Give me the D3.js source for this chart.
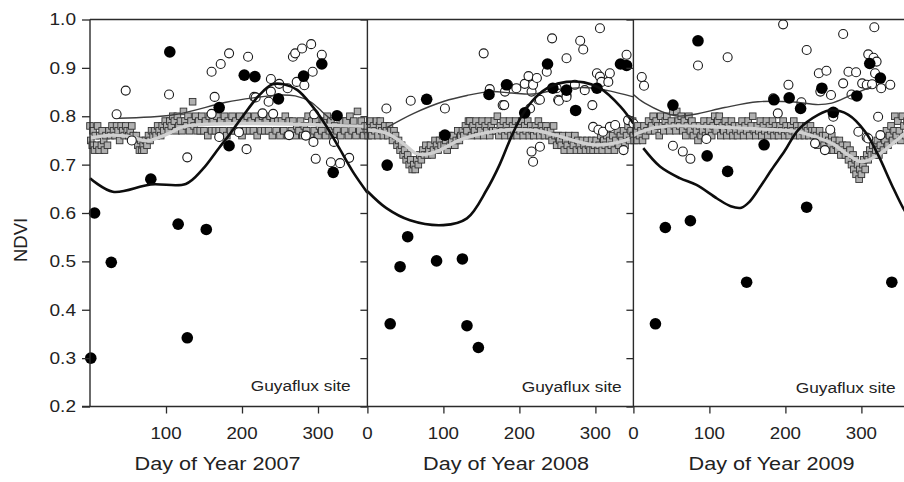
<!DOCTYPE html>
<html>
<head>
<meta charset="utf-8">
<script src="https://cdn.jsdelivr.net/npm/d3@7"></script>
<style>
  body { margin: 0; background: #fff; }
  text { font-family: "Liberation Sans", Arial, sans-serif; fill: #222; }
</style>
</head>
<body>
<svg id="chart" width="904" height="482"></svg>
<script>
// ---- data: NDVI by day of year, Guyaflux site ----
const years = ["2007", "2008", "2009"];
const yTicks = [0.2, 0.3, 0.4, 0.5, 0.6, 0.7, 0.8, 0.9, 1.0];
const xTicks2007 = [100, 200, 300];
const xTicks2008 = [0, 100, 200, 300];
const xTicks2009 = [0, 100, 200, 300];
const siteLabel = "Guyaflux site";

// grey squares: daily composite NDVI
const squares2007 = [[0,.78],[1,.75],[3,.74],[4,.77],[6,.73],[7,.76],[9,.74],[10,.78],[12,.73],[13,.76],[15,.74],[16,.77],[18,.75],[19,.73],[21,.76],
  [23,.74],[25,.77],[27,.76],[29,.78],[31,.77],[33,.76],[35,.78],[37,.77],[39,.75],[41,.78],[43,.77],[45,.76],[47,.78],[49,.77],[51,.76],[53,.77],[55,.78],[57,.76],
  [59,.75],[61,.76],[63,.74],[65,.73],[67,.75],[68,.73],[70,.74],[71,.73],[73,.75],[75,.74],[77,.76],[79,.75],
  [81,.77],[83,.76],[85,.77],[87,.76],[89,.78],[91,.77],[93,.76],[95,.78],[97,.77],[99,.79],[101,.78],[103,.77],[105,.79],[107,.78],[109,.80],
  [111,.79],[113,.77],[115,.80],[117,.78],[119,.79],[121,.77],[123,.81],[125,.79],[127,.78],[129,.80],[131,.77],[133,.79],[135,.83],[137,.78],[139,.80],
  [141,.77],[143,.79],[145,.77],[147,.80],[150,.77],[152,.79],[155,.76],[157,.80],[160,.77],[162,.79],[165,.77],[167,.80],[170,.77],[172,.79],[175,.77],[177,.80],
  [180,.76],[182,.79],[185,.77],[187,.80],[190,.77],[192,.79],[195,.77],[197,.80],[200,.76],[202,.79],[205,.77],[207,.80],[210,.77],[212,.79],[215,.77],[217,.80],
  [220,.76],[222,.79],[225,.77],[227,.80],[230,.77],[232,.79],[235,.77],[237,.80],[240,.76],[242,.79],[245,.77],[247,.79],[250,.76],[252,.79],[255,.77],[257,.80],
  [260,.76],[262,.79],[265,.77],[267,.79],[270,.76],[272,.78],[275,.77],[277,.79],[280,.76],[282,.78],[285,.77],[287,.80],[290,.76],[292,.79],[295,.77],[297,.79],
  [300,.76],[302,.78],[305,.77],[307,.79],[310,.76],[312,.80],[315,.77],[317,.79],[320,.76],[322,.78],[325,.77],[327,.80],[330,.76],[332,.79],[335,.77],[337,.79],
  [340,.76],[342,.80],[345,.77],[347,.79],[350,.76],[352,.81],[355,.77],[357,.79],[360,.76],[362,.78],[365,.77]];
const squares2008 = [[0,.78],[1,.76],[3,.79],[4,.77],[6,.76],[8,.78],[10,.77],[12,.79],[14,.76],[16,.78],[17,.79],[19,.77],[21,.76],[23,.78],[25,.77],[27,.76],[29,.78],[31,.77],[33,.75],[35,.77],[37,.76],[39,.74],
  [41,.75],[43,.73],[45,.74],[47,.72],[49,.73],[51,.71],[53,.72],[55,.70],[57,.71],[59,.69],[61,.70],[63,.69],[65,.71],[67,.70],[69,.72],[71,.71],[73,.73],[75,.72],[77,.74],[79,.72],[81,.73],[83,.74],[85,.72],[87,.73],
  [89,.75],[91,.74],[93,.73],[95,.75],[97,.74],[99,.76],[101,.74],[103,.75],[105,.73],[107,.76],[109,.74],[111,.75],[113,.76],[115,.74],[117,.75],[119,.77],[121,.75],[123,.76],[125,.77],
  [127,.76],[129,.78],[131,.77],[133,.79],[135,.79],[137,.76],[139,.78],[141,.77],[143,.79],[145,.76],[147,.78],[149,.77],[151,.79],[153,.76],[155,.78],[157,.77],[159,.79],[161,.76],[163,.78],[165,.77],[167,.79],[169,.77],[171,.80],[173,.76],[175,.78],[177,.77],[179,.79],
  [181,.76],[183,.78],[185,.77],[187,.79],[189,.76],[191,.78],[193,.77],[195,.79],[197,.76],[199,.78],[201,.77],[203,.79],[205,.76],[207,.78],[209,.77],[211,.79],[213,.76],[215,.78],[217,.77],[219,.76],[221,.78],[223,.77],[225,.79],[227,.76],[229,.78],[231,.77],[233,.76],[235,.78],[237,.77],[239,.76],
  [241,.77],[243,.75],[245,.78],[247,.76],[249,.74],[251,.76],[253,.75],[255,.74],[257,.76],[259,.73],[261,.75],[263,.74],[265,.76],[267,.73],[269,.75],[271,.74],[273,.76],[275,.73],[277,.75],[279,.74],[281,.73],[283,.75],[285,.74],[287,.73],[289,.75],[291,.74],[293,.73],[295,.75],[297,.73],[299,.74],[301,.75],[303,.73],
  [305,.74],[307,.76],[309,.73],[311,.75],[313,.74],[315,.76],[317,.73],[319,.75],[321,.74],[323,.76],[325,.73],[327,.75],[329,.77],[331,.74],[333,.76],[335,.75],[337,.77],[339,.74],[341,.76],[343,.78],[345,.75],[347,.77],[349,.79],[350,.76]];
const squares2009 = [[0,.76],[1,.75],[3,.77],[5,.75],[6,.78],[8,.76],[10,.77],[12,.75],[14,.78],[16,.76],[18,.77],[20,.79],[22,.77],
  [24,.78],[26,.80],[28,.77],[30,.79],[32,.78],[34,.76],[36,.80],[38,.78],[40,.77],[42,.79],[44,.80],[46,.78],[48,.77],[50,.79],[52,.81],[54,.78],[56,.77],[57,.81],[59,.79],[61,.78],[63,.80],[65,.77],[67,.79],[69,.76],[71,.78],[73,.80],[75,.77],[77,.79],
  [79,.76],[81,.78],[83,.77],[85,.75],[87,.78],[89,.76],[91,.77],[93,.79],[95,.76],[97,.78],[99,.77],[101,.79],[103,.76],[105,.78],[107,.80],[109,.77],[111,.79],[113,.80],[115,.76],[117,.78],[119,.77],[121,.79],[123,.76],[125,.78],[127,.77],[129,.79],[131,.76],[133,.78],[135,.77],[137,.76],
  [139,.78],[141,.77],[143,.79],[145,.76],[147,.78],[149,.77],[151,.79],[153,.76],[155,.78],[157,.80],[159,.77],[161,.76],[163,.78],[165,.77],[167,.79],[169,.76],[171,.78],[173,.77],[175,.79],[177,.76],[179,.78],
  [181,.77],[183,.79],[185,.76],[187,.78],[189,.77],[191,.76],[193,.78],[195,.77],[197,.79],[199,.76],[201,.78],[203,.77],[205,.76],[207,.78],[209,.77],[211,.79],[213,.76],[215,.78],[217,.77],[219,.76],[221,.78],[223,.77],[225,.76],[227,.78],[229,.77],[231,.76],[233,.78],[235,.77],[237,.76],[239,.77],
  [241,.76],[243,.74],[245,.77],[247,.75],[249,.76],[251,.74],[253,.76],[255,.73],[257,.75],[259,.74],[261,.76],[263,.73],[265,.75],[267,.74],[269,.73],[271,.75],[273,.72],[275,.74],[277,.73],[279,.72],[281,.74],
  [283,.71],[285,.73],[287,.70],[289,.72],[290,.69],[292,.71],[293,.68],[295,.70],[297,.67],[298,.69],[300,.68],[302,.70],[303,.71],[305,.69],
  [307,.72],[309,.71],[311,.73],[313,.72],[315,.74],[317,.72],[319,.73],[321,.75],[323,.72],[325,.74],[327,.76],[329,.73],[331,.75],[333,.77],[335,.74],[337,.76],[339,.78],[341,.75],[343,.77],[344,.80],[346,.76],[348,.79],[350,.77],[352,.75],[354,.80],[356,.78],[358,.76],[360,.79]];

// light grey smoothed curve through the squares
const greyFit2007 = [[0,.755],[30,.761],[55,.757],[74,.749],[100,.762],[122,.778],[150,.783],[200,.785],[260,.784],[300,.782],[365,.779]];
const greyFit2008 = [[0,.772],[25,.765],[47,.744],[64,.723],[75,.721],[91,.727],[122,.751],[157,.766],[188,.772],[223,.770],[254,.758],[297,.741],[333,.747],[350,.757]];
const greyFit2009 = [[0,.761],[24,.775],[55,.780],[120,.777],[186,.772],[217,.768],[240,.757],[261,.744],[283,.720],[300,.706],[322,.720],[349,.754],[365,.775]];

// open circles and their thin fitted curve
const open2007 = [[35,.804],[47,.853],[55,.750],[104,.845],[128,.715],[160,.892],[172,.908],[183,.930],[160,.805],[164,.840],[170,.757],[196,.767],[206,.732],[208,.923],
  [216,.840],[218,.839],[227,.806],[235,.830],[238,.877],[238,.851],[241,.805],[249,.867],[260,.858],[262,.761],[267,.923],[270,.930],[272,.871],[279,.940],[282,.864],
  [284,.760],[291,.949],[293,.892],[294,.747],[295,.804],[297,.712],[305,.927],[317,.705],[321,.747],[329,.703],[341,.714]];
const open2008 = [[25,.816],[57,.832],[102,.816],[153,.930],[161,.856],[178,.823],[180,.823],[181,.851],[185,.865],[196,.858],[207,.867],[212,.883],[214,.816],[216,.851],
  [216,.727],[218,.865],[218,.706],[223,.879],[225,.834],[227,.737],[227,.834],[236,.892],[243,.961],[249,.858],[251,.834],[252,.832],[262,.920],[262,.844],[262,.840],
  [273,.865],[280,.956],[284,.938],[286,.854],[296,.823],[297,.778],[302,.889],[304,.772],[306,.982],[306,.882],[308,.871],[310,.768],[317,.871],[319,.889],[319,.778],
  [326,.782],[337,.730],[341,.927],[343,.792],[350,.785]];
const open2009 = [[11,.881],[14,.863],[52,.739],[65,.727],[75,.712],[85,.905],[96,.753],[124,.922],[184,.837],[190,.806],[197,.990],[204,.865],[221,.829],[228,.937],
  [239,.744],[244,.889],[246,.851],[252,.730],[254,.894],[259,.772],[260,.844],[263,.799],[276,.970],[276,.868],[283,.892],[287,.845],[293,.891],[296,.768],[301,.868],
  [307,.865],[307,.756],[309,.928],[309,.754],[314,.866],[316,.921],[317,.984],[318,.889],[320,.913],[322,.799],[325,.761],[326,.858],[338,.865]];
const thinFit2007 = [[38,.796],[110,.803],[179,.829],[215,.838],[250,.844],[270,.842],[290,.830],[305,.810],[318,.792]];
const thinFit2008 = [[25,.776],[61,.806],[101,.831],[131,.843],[162,.851],[190,.848],[218,.846],[254,.856],[289,.859],[320,.852],[350,.840]];
const thinFit2009 = [[0,.845],[15,.827],[55,.801],[81,.804],[120,.818],[164,.830],[208,.830],[243,.824],[261,.827],[287,.844],[313,.861]];

// filled circles and their thick fitted curve
const filled2007 = [[1,.300],[6,.600],[28,.498],[80,.670],[105,.933],[116,.577],[128,.342],[153,.566],[170,.818],[183,.739],[203,.885],[217,.882],[248,.836],
  [281,.883],[305,.908],[320,.684],[325,.801]];
const filled2008 = [[26,.699],[30,.371],[43,.489],[53,.551],[78,.835],[91,.501],[102,.761],[125,.505],[131,.367],[146,.322],[160,.845],[183,.865],[207,.807],
  [237,.908],[244,.858],[262,.854],[274,.812],[302,.858],[333,.908],[341,.905]];
const filled2009 = [[29,.371],[42,.570],[52,.823],[75,.584],[85,.956],[97,.718],[124,.686],[149,.457],[172,.741],[185,.834],[205,.838],[220,.816],[228,.612],
  [248,.858],[263,.808],[294,.842],[311,.909],[325,.879],[340,.457]];
const thickFit2007 = [[0,.672],[30,.644],[80,.659],[126,.660],[148,.690],[170,.735],[183,.761],[201,.800],[223,.844],[240,.866],[255,.866],[273,.854],[293,.820],
  [310,.782],[328,.734],[346,.685],[365,.642]];
const thickFit2008 = [[0,.645],[25,.610],[56,.585],[100,.575],[131,.589],[157,.648],[174,.700],[190,.760],[205,.806],[222,.840],[240,.861],[262,.871],[285,.870],
  [306,.858],[333,.820],[350,.785]];
const thickFit2009 = [[13,.734],[35,.696],[61,.672],[83,.658],[110,.630],[128,.614],[142,.611],[152,.622],[166,.652],[182,.690],[199,.728],[217,.772],[243,.803],[261,.813],
  [283,.803],[305,.768],[322,.720],[340,.658],[355,.610],[365,.585]];

// ---- layout ----
const svg = d3.select("#chart");
const plotTop = 19.5, plotBottom = 406.5;
const stretch = 1.17;
const panels = [
  { year: years[0], x0: 90,    x1: 367.4, days: 365, ticks: xTicks2007, sq: squares2007, grey: greyFit2007, open: open2007, thin: thinFit2007, filled: filled2007, thick: thickFit2007, labelX: 350.7, labelY: 391, titleX: 217.5 },
  { year: years[1], x0: 367.4, x1: 633.4, days: 350, ticks: xTicks2008, sq: squares2008, grey: greyFit2008, open: open2008, thin: thinFit2008, filled: filled2008, thick: thickFit2008, labelX: 621.7, labelY: 392, titleX: 506 },
  { year: years[2], x0: 633.4, x1: 910.8, days: 365, ticks: xTicks2009, sq: squares2009, grey: greyFit2009, open: open2009, thin: thinFit2009, filled: filled2009, thick: thickFit2009, labelX: 895.7, labelY: 393, titleX: 771.5 }
];

const y = d3.scaleLinear().domain([0.2, 1.0]).range([plotBottom, plotTop]);
const frame = "#2b2b2b";

panels.forEach(p => {
  const x = d3.scaleLinear().domain([0, p.days]).range([p.x0, p.x1]);
  const g = svg.append("g");
  const line = d3.line().x(d => x(d[0])).y(d => y(d[1])).curve(d3.curveCatmullRom.alpha(0.5));

  // squares
  const s = 6.6;
  g.selectAll("rect.sq").data(p.sq).join("rect")
    .attr("x", d => x(d[0]) - s / 2).attr("y", d => y(d[1]) - s / 2)
    .attr("width", s).attr("height", s)
    .attr("fill", "#b0b0b0").attr("stroke", "#333").attr("stroke-width", 0.9);

  g.append("path").attr("d", line(p.grey)).attr("fill", "none")
    .attr("stroke", "#d0d0d0").attr("stroke-width", 3.4);

  // open circles
  g.selectAll("circle.open").data(p.open).join("circle")
    .attr("cx", d => x(d[0])).attr("cy", d => y(d[1])).attr("r", 4.5)
    .attr("fill", "#fff").attr("stroke", "#1a1a1a").attr("stroke-width", 1.1);

  g.append("path").attr("d", line(p.thin)).attr("fill", "none")
    .attr("stroke", "#3d3d3d").attr("stroke-width", 1.4);

  // filled circles
  g.selectAll("circle.filled").data(p.filled).join("circle")
    .attr("cx", d => x(d[0])).attr("cy", d => y(d[1])).attr("r", 5.8)
    .attr("fill", "#000");

  g.append("path").attr("d", line(p.thick)).attr("fill", "none")
    .attr("stroke", "#0d0d0d").attr("stroke-width", 2.6);

  // bottom axis ticks
  const xa = svg.append("g").attr("transform", `translate(0,${plotBottom})`)
    .call(d3.axisBottom(x).tickValues(p.ticks).tickSize(7).tickSizeOuter(0).tickFormat(""));
  xa.select(".domain").remove();
  xa.selectAll("line").attr("stroke", frame).attr("stroke-width", 1.3);

  // tick labels
  svg.append("g").selectAll("text").data(p.ticks).join("text")
    .attr("transform", d => `translate(${x(d)},439) scale(${stretch},1)`)
    .attr("text-anchor", "middle").attr("font-size", 16).text(d => d);

  svg.append("text")
    .attr("transform", `translate(${p.labelX},${p.labelY}) scale(${stretch},1)`)
    .attr("text-anchor", "end").attr("font-size", 14.8).text(siteLabel);

  svg.append("text")
    .attr("transform", `translate(${p.titleX},469.5) scale(${stretch},1)`)
    .attr("text-anchor", "middle").attr("font-size", 18.5).text("Day of Year " + p.year);
});

// left axis and inner dividers
[90, 367.4, 633.4].forEach(px => {
  const ya = svg.append("g").attr("transform", `translate(${px},0)`)
    .call(d3.axisLeft(y).tickValues(yTicks).tickSize(px === 90 ? 8 : 7).tickSizeOuter(0).tickFormat(""));
  ya.select(".domain").remove();
  ya.selectAll("line").attr("stroke", frame).attr("stroke-width", 1.3);
  svg.append("line").attr("x1", px).attr("x2", px).attr("y1", plotTop).attr("y2", plotBottom)
    .attr("stroke", frame).attr("stroke-width", 1.4);
});
svg.append("line").attr("x1", 90).attr("x2", 904).attr("y1", plotTop).attr("y2", plotTop)
  .attr("stroke", frame).attr("stroke-width", 1.4);
svg.append("line").attr("x1", 82).attr("x2", 904).attr("y1", plotBottom).attr("y2", plotBottom)
  .attr("stroke", frame).attr("stroke-width", 1.4);

svg.append("g").selectAll("text").data(yTicks).join("text")
  .attr("transform", d => `translate(76,${y(d) + 5.9}) scale(${stretch},1)`)
  .attr("text-anchor", "end").attr("font-size", 16.3).text(d3.format(".1f"));

svg.append("text").attr("transform", "translate(27,240) rotate(-90)")
  .attr("text-anchor", "middle").attr("font-size", 18.5).text("NDVI");
</script>
</body>
</html>
